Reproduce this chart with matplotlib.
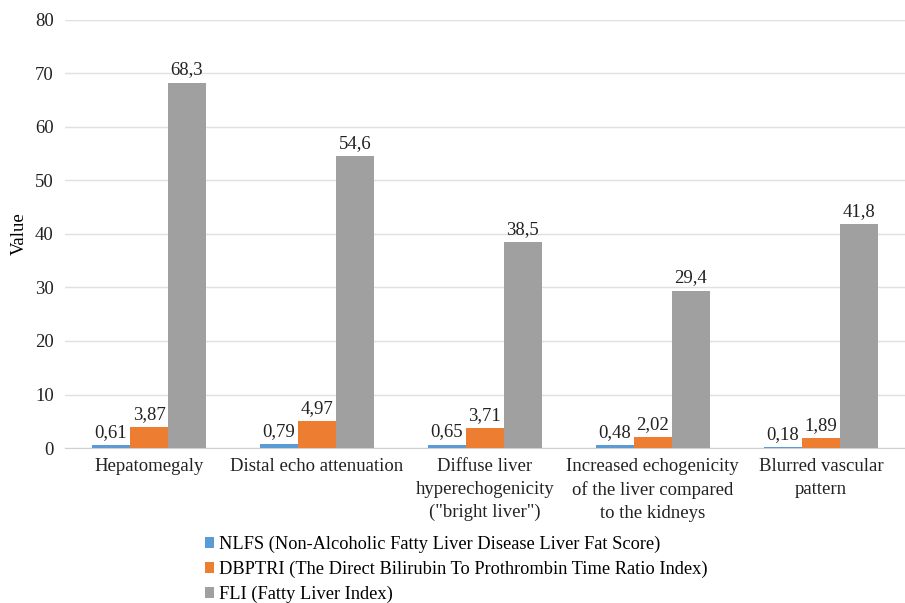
import numpy as np
import matplotlib.pyplot as plt

plt.rcParams['font.family'] = ['Liberation Serif', 'DejaVu Serif']

categories = ["Hepatomegaly", "Distal echo attenuation",
              "Diffuse liver\nhyperechogenicity\n(\"bright liver\")",
              "Increased echogenicity\nof the liver compared\nto the kidneys",
              "Blurred vascular\npattern"]
nlfs = [0.61, 0.79, 0.65, 0.48, 0.18]
dbptri = [3.87, 4.97, 3.71, 2.02, 1.89]
fli = [68.3, 54.6, 38.5, 29.4, 41.8]
series_names = ["NLFS (Non-Alcoholic Fatty Liver Disease Liver Fat Score)",
                "DBPTRI (The Direct Bilirubin To Prothrombin Time Ratio Index)",
                "FLI (Fatty Liver Index)"]
colors = ["#5B9BD5", "#ED7D31", "#A0A0A0"]

fs = 13.5

fig = plt.figure(figsize=(9.05, 6.03), dpi=100)
ax = fig.add_axes([0.0718, 0.257, 0.928, 0.71])

x = np.arange(len(categories))
w = 0.226
for i, (vals, name, c) in enumerate(zip([nlfs, dbptri, fli], series_names, colors)):
    bars = ax.bar(x + (i - 1) * w, vals, w, color=c, label=name, zorder=3)
    ax.bar_label(bars, labels=[f"{v:g}".replace(".", ",") for v in vals],
                 padding=3, fontsize=fs, color="#222222")

ax.set_xlim(-0.5, len(categories) - 0.5)
ax.set_ylim(0, 80)
ax.set_yticks(range(0, 81, 10))
ax.set_xticks(x)
ax.set_xticklabels(categories, fontsize=fs, linespacing=1.45)
ax.tick_params(axis='both', length=0, labelsize=fs, colors="#222222")
ax.tick_params(axis='x', pad=7)
ax.tick_params(axis='y', pad=8)
ax.grid(axis='y', color="#e0e0e0", linewidth=1, zorder=0)
for s in ['top', 'right', 'left']:
    ax.spines[s].set_visible(False)
ax.spines['bottom'].set_color("#d0d0d0")
ax.set_ylabel("Value", fontsize=fs, labelpad=5)

fig.legend(loc='upper left', bbox_to_anchor=(0.216, 0.127), frameon=False,
           fontsize=13.2, handlelength=0.5, handleheight=0.5, handletextpad=0.3,
           labelspacing=0.42, borderpad=0)

fig.savefig("out.png", dpi=100)
